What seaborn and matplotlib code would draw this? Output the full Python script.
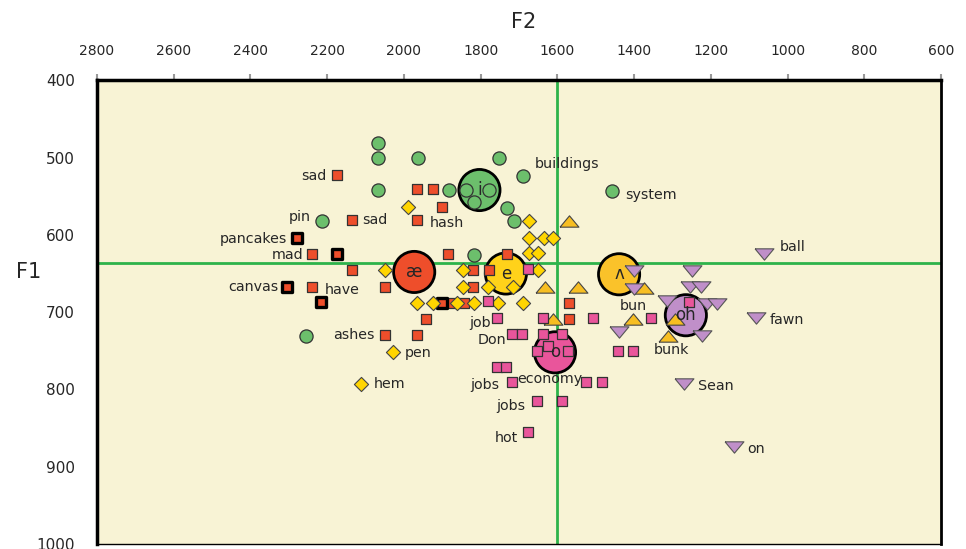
import numpy as np
import pandas as pd
import matplotlib.pyplot as plt
from matplotlib.path import Path
import seaborn as sns

# --- données (F2, F1 en Hz) ---
# i : cercles verts
i_f2 = [2068, 2068, 1962, 2068, 1882, 2214, 2255, 1753, 1690, 1838, 1777, 1816, 1730, 1712, 1817, 1457]
i_f1 = [481, 501, 501, 542, 542, 582, 731, 501, 524, 542, 542, 557, 565, 582, 626, 543]

# ae : carrés rouges
ae_f2 = [2175, 1965, 1925, 1901, 2134, 1965, 2239, 2134, 1884, 2240, 2048, 1941, 2048, 1965,
         1878, 1732, 1821, 1777, 1821, 1842, 1569, 1569]
ae_f1 = [523, 541, 541, 564, 581, 581, 625, 645, 625, 668, 668, 709, 730, 730,
         688, 625, 645, 645, 667, 688, 688, 709]

# ae devant nasale : carrés rouges bordés de noir
aeN_f2 = [2279, 2175, 2304, 2217, 1901]
aeN_f1 = [604, 625, 668, 687, 688]

# e : losanges jaunes
e_f2 = [1988, 2048, 1966, 1925, 2029, 2111, 1673, 1673, 1634, 1611, 1673, 1650, 1845, 1650,
        1845, 1780, 1715, 1862, 1818, 1754, 1690]
e_f1 = [564, 646, 688, 688, 752, 793, 582, 604, 604, 604, 624, 624, 645, 645,
        667, 667, 667, 688, 688, 688, 688]

# ^ : triangles orange
uh_f2 = [1569, 1632, 1545, 1611, 1402, 1373, 1293, 1312]
uh_f1 = [582, 667, 667, 709, 709, 669, 709, 731]

# o : carrés roses
o_f2 = [1677, 1780, 1758, 1637, 1508, 1717, 1693, 1637, 1589, 1654, 1624, 1571, 1758, 1734,
        1717, 1525, 1484, 1443, 1402, 1652, 1589, 1676, 1356, 1256]
o_f1 = [644, 686, 708, 708, 708, 728, 728, 728, 728, 750, 744, 750, 771, 771,
        791, 791, 791, 750, 750, 815, 815, 855, 708, 687]

# oh : triangles violets
oh_f2 = [1061, 1400, 1400, 1250, 1254, 1226, 1313, 1210, 1185, 1224, 1082, 1270, 1140, 1438]
oh_f1 = [625, 647, 670, 647, 667, 667, 686, 689, 689, 731, 708, 793, 874, 726]

# moyennes
mean_vowels = ["æ", "i", "e", "ʌ", "o", "oh"]
mean_f2 = [1973, 1803, 1734, 1439, 1606, 1265]
mean_f1 = [648, 542, 650, 651, 752, 704]

# mots étiquetés
words = ["sad", "pin", "pancakes", "mad", "canvas", "have", "sad", "hash", "ashes", "pen", "hem",
         "buildings", "system", "ball", "fawn", "Sean", "on", "bun", "bunk", "job", "Don",
         "economy", "jobs", "jobs", "hot"]
word_f2 = [2175, 2214, 2279, 2239, 2304, 2240, 2134, 1965, 2048, 2029, 2111,
           1690, 1457, 1061, 1082, 1270, 1140, 1402, 1312, 1758, 1717,
           1717, 1717, 1652, 1676]
word_f1 = [523, 582, 604, 625, 668, 668, 581, 581, 730, 752, 793,
           524, 543, 625, 708, 793, 874, 709, 731, 708, 728,
           791, 791, 815, 855]

# --- style ---
bg = "#F8F3D5"
green = "#6CBF6C"
red = "#EE4E2B"
yellow = "#FFD500"
gold = "#F7BE22"
pink = "#E9559B"
purple = "#C08FC9"
lime = "#2DB34A"

tri_up = Path([(-1, -0.6), (1, -0.6), (0, 0.6), (-1, -0.6)])
tri_down = Path([(-1, 0.6), (1, 0.6), (0, -0.6), (-1, 0.6)])

sns.set_style("white")
plt.rcParams["font.family"] = ["DejaVu Sans"]

fig = plt.figure(figsize=(9.66, 5.49), dpi=100)
ax = fig.add_axes([96.9 / 966, 1 - 544 / 549, (941 - 96.9) / 966, (544 - 80.3) / 549])
ax.set_facecolor(bg)

ax.axvline(1600, color=lime, lw=2, zorder=1)
ax.axhline(637, color=lime, lw=2, zorder=1)

df_mean = pd.DataFrame({"F2": mean_f2, "F1": mean_f1, "v": mean_vowels})
mean_cols = {"æ": red, "i": green, "e": "#FFD21A", "ʌ": "#FAC22A", "o": pink, "oh": purple}
sns.scatterplot(data=df_mean, x="F2", y="F1", hue="v", palette=mean_cols, s=880,
                edgecolor="black", linewidth=2, legend=False, ax=ax, zorder=2)

groupes = [
    (i_f2, i_f1, "o", green, 90, "#333333", 0.9),
    (ae_f2, ae_f1, "s", red, 62, "#333333", 0.9),
    (aeN_f2, aeN_f1, "s", red, 58, "black", 2.4),
    (e_f2, e_f1, "D", yellow, 52, "#444444", 0.8),
    (uh_f2, uh_f1, tri_up, gold, 185, "#444444", 0.8),
    (o_f2, o_f1, "s", pink, 60, "#333333", 0.9),
    (oh_f2, oh_f1, tri_down, purple, 185, "#555555", 0.8),
]
for gx, gy, mk, col, taille, ec, lw in groupes:
    sns.scatterplot(x=gx, y=gy, marker=mk, color=col, s=taille, edgecolor=ec,
                    linewidth=lw, ax=ax, zorder=3)

for v, x, y in zip(mean_vowels, mean_f2, mean_f1):
    ax.text(x, y, v, ha="center", va="center", fontsize=12, zorder=5)

# décalages des étiquettes (pixels)
decal = [(-10, -1, "right"), (-11, 4, "right"), (-10, -1, "right"), (-9, -1, "right"),
         (-9, 0, "right"), (13, -3, "left"), (10, 0, "left"), (12, -3, "left"),
         (-11, 0, "right"), (12, -1, "left"), (12, 0, "left"), (12, 12, "left"),
         (13, -4, "left"), (16, 7, "left"), (14, -2, "left"), (14, -2, "left"),
         (13, -2, "left"), (0, 13, "center"), (4, -14, "center"), (-6, -5, "right"),
         (-6, -6, "right"), (5, 3, "left"), (-13, -3, "right"), (-12, -5, "right"),
         (-10, -6, "right")]
for w, x, y, (dx, dy, ha) in zip(words, word_f2, word_f1, decal):
    ax.annotate(w, (x, y), xytext=(dx, dy), textcoords="offset pixels",
                ha=ha, va="center", fontsize=10.3, zorder=6)

ax.set_xlim(2800, 600)
ax.set_ylim(1000, 400)
ax.xaxis.tick_top()
ax.set_xticks(np.arange(2800, 599, -200))
ax.set_yticks(np.arange(400, 1001, 100))
ax.tick_params(axis="x", length=4, width=1.5, color="#999999", pad=12, labelsize=10)
ax.tick_params(axis="y", length=4, width=1.5, color="#999999", pad=12, labelsize=11)
ax.set_xlabel("")
ax.set_ylabel("")

for cote, lw in [("top", 2.5), ("left", 2.5), ("right", 2), ("bottom", 1)]:
    ax.spines[cote].set_visible(True)
    ax.spines[cote].set_color("black")
    ax.spines[cote].set_linewidth(lw)

fig.text(524 / 966, 1 - 22 / 549, "F2", ha="center", va="center", fontsize=15)
fig.text(29 / 966, 1 - 272 / 549, "F1", ha="center", va="center", fontsize=15)

plt.savefig("out.png", dpi=100, facecolor="white")
plt.close()
